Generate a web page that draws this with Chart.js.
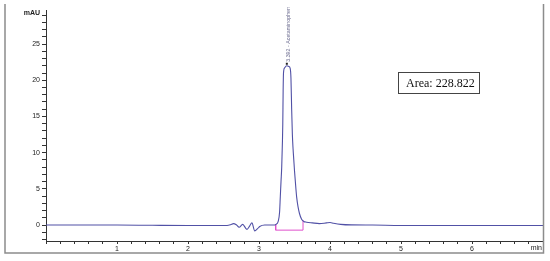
<!DOCTYPE html>
<html>
<head>
<meta charset="utf-8">
<script src="https://cdn.jsdelivr.net/npm/chart.js@4/dist/chart.umd.min.js"></script>
<style>
  html, body { margin: 0; padding: 0; background: #fff; }
  #wrap { width: 550px; height: 261px; }
</style>
</head>
<body>
<div id="wrap"><canvas id="chromChart" width="550" height="261"></canvas></div>
<script>
// retention time (min) / signal (mAU)
const timeMin = [
  0, 0.5, 1.0, 1.5, 2.0, 2.4, 2.55, 2.6, 2.64, 2.68, 2.72, 2.77, 2.83, 2.87, 2.9, 2.94, 2.98, 3.01, 3.08, 3.15,
  3.2, 3.24, 3.27, 3.29, 3.3, 3.31, 3.32, 3.33, 3.335, 3.34, 3.345, 3.36, 3.39, 3.42, 3.44, 3.45, 3.46, 3.47,
  3.48, 3.49, 3.5, 3.52, 3.53, 3.55, 3.57, 3.6, 3.63, 3.67, 3.75, 3.85, 3.95, 4.0, 4.05, 4.15, 4.3, 4.6,
  5.0, 6.0, 7.0
];
const signalMAU = [
  0, 0, 0, -0.03, -0.05, -0.05, -0.05, 0.05, 0.2, 0.05, -0.3, 0.1, -0.6, -0.1, 0.3, -0.8, -0.5, -0.2, 0, 0,
  0, 0.1, 0.5, 1.8, 3.9, 6.0, 8.0, 11.5, 14.0, 18.5, 21.0, 21.7, 22.0, 21.9, 21.6, 20.3, 16.0, 12.5,
  10.5, 9.0, 7.5, 5.0, 3.9, 2.5, 1.6, 0.8, 0.5, 0.4, 0.3, 0.2, 0.3, 0.35, 0.25, 0.1, 0.02, 0,
  -0.05, -0.05, -0.05
];

// integration baseline (pink)
const baseTime = [3.235, 3.235, 3.62, 3.62];
const baseMAU = [0.1, -0.7, -0.7, 0.7];

const peakLabel = '3.392 - Acetaminophen';
const areaText = 'Area: 228.822';

const trace = timeMin.map((t, i) => ({ x: t, y: signalMAU[i] }));
const baseline = baseTime.map((t, i) => ({ x: t, y: baseMAU[i] }));

const isInt = v => Math.abs(v - Math.round(v)) < 1e-6;

const decor = {
  id: 'decor',
  afterDraw(chart) {
    const ctx = chart.ctx;
    const xs = chart.scales.x, ys = chart.scales.y;
    ctx.save();

    // outer frame
    ctx.strokeStyle = '#8c8c8c';
    ctx.lineWidth = 1.5;
    ctx.beginPath();
    ctx.moveTo(5, 4);
    ctx.lineTo(5, 253);
    ctx.lineTo(543.5, 253);
    ctx.lineTo(543.5, 4);
    ctx.stroke();

    // axis units
    ctx.fillStyle = '#222';
    ctx.font = 'bold 7px "Liberation Sans", Arial, sans-serif';
    ctx.textAlign = 'right';
    ctx.textBaseline = 'middle';
    ctx.fillText('mAU', 40, 13);
    ctx.font = '7px "Liberation Sans", Arial, sans-serif';
    ctx.fillText('min', 542, 248);

    // peak label, vertical above the apex
    const px = xs.getPixelForValue(3.392);
    const py = ys.getPixelForValue(22.0);
    ctx.fillStyle = '#222';
    ctx.fillRect(px - 1, py - 3, 2, 2);
    ctx.translate(px + 1.5, py - 4);
    ctx.rotate(-Math.PI / 2);
    ctx.fillStyle = '#6b6b8f';
    ctx.font = '5.3px "Liberation Sans", Arial, sans-serif';
    ctx.textAlign = 'left';
    ctx.fillText(peakLabel, 0, 0);
    ctx.setTransform(1, 0, 0, 1, 0, 0);

    // area box
    ctx.strokeStyle = '#444';
    ctx.lineWidth = 1;
    ctx.strokeRect(398.5, 72.5, 81, 21);
    ctx.fillStyle = '#111';
    ctx.font = '12px "Liberation Serif", "Times New Roman", serif';
    ctx.textAlign = 'left';
    ctx.textBaseline = 'middle';
    ctx.fillText(areaText, 406, 83.5);
    ctx.restore();
  }
};

new Chart(document.getElementById('chromChart').getContext('2d'), {
  type: 'scatter',
  data: {
    datasets: [
      {
        data: trace,
        showLine: true,
        borderColor: '#5151a6',
        borderWidth: 1.1,
        pointRadius: 0,
        cubicInterpolationMode: 'monotone',
        order: 1
      },
      {
        data: baseline,
        showLine: true,
        borderColor: '#e050cc',
        borderWidth: 1,
        pointRadius: 0,
        tension: 0,
        order: 2
      }
    ]
  },
  options: {
    responsive: false,
    animation: false,
    events: [],
    layout: { padding: { left: 0, right: 7, top: 10, bottom: 0 } },
    plugins: { legend: { display: false }, tooltip: { enabled: false } },
    scales: {
      x: {
        type: 'linear',
        min: 0,
        max: 7,
        afterFit(s) { s.height = 20; },
        border: { display: true, color: '#333', width: 1 },
        grid: { drawOnChartArea: false, drawTicks: true, tickLength: 3, color: '#333' },
        ticks: {
          stepSize: 0.2,
          autoSkip: false,
          maxRotation: 0,
          padding: 1,
          color: '#222',
          font: { size: 7, family: '"Liberation Sans", Arial, sans-serif' },
          callback: v => (isInt(v) && v >= 1 && v <= 6) ? String(Math.round(v)) : ''
        }
      },
      y: {
        type: 'linear',
        min: -2.2,
        max: 29.7,
        afterFit(s) { s.width = 46; },
        border: { display: true, color: '#333', width: 1 },
        grid: { drawOnChartArea: false, drawTicks: true, tickLength: 4, color: '#333' },
        ticks: {
          stepSize: 1,
          includeBounds: false,
          autoSkip: false,
          padding: 2,
          color: '#222',
          font: { size: 7, family: '"Liberation Sans", Arial, sans-serif' },
          callback: v => (isInt(v) && Math.round(v) % 5 === 0) ? String(Math.round(v)) : ''
        }
      }
    }
  },
  plugins: [decor]
});
</script>
</body>
</html>
